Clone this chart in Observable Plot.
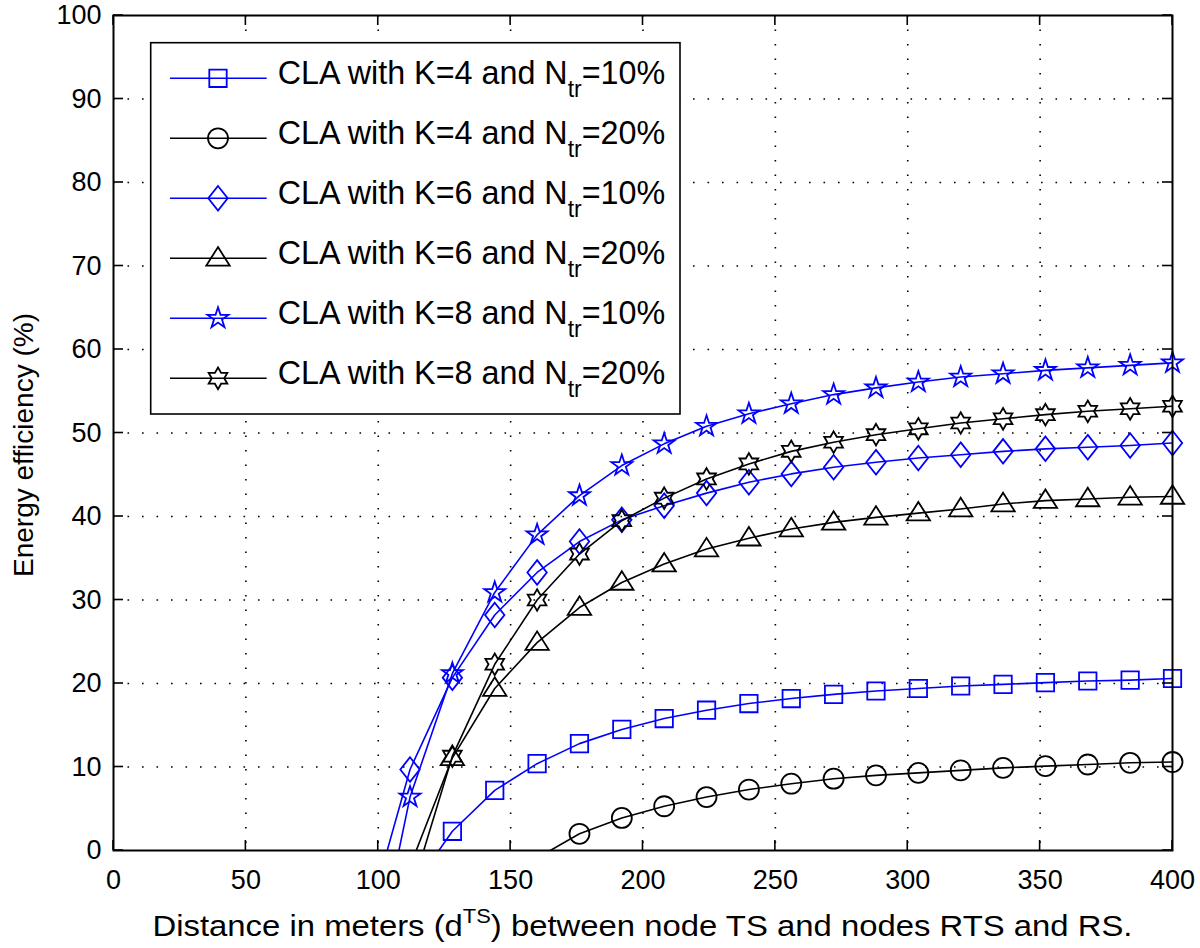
<!DOCTYPE html>
<html><head><meta charset="utf-8">
<script src="https://cdn.jsdelivr.net/npm/d3@7"></script>
<script src="https://cdn.jsdelivr.net/npm/@observablehq/plot@0.6"></script>
<style>
body{margin:0;background:#fff;}
#chart{width:1200px;height:948px;}
</style></head><body><div id="chart"></div>
<script>
// distances (m) at which each curve was evaluated
const distances = [96, 112, 128, 144, 160, 176, 192, 208, 224, 240, 256, 272, 288, 304, 320, 336, 352, 368, 384, 400];
// energy efficiency (%) per series (null = not computed); values below 0 are clipped at the axis
const k4n10 = [null, -4.9, 2.3, 7.2, 10.4, 12.8, 14.5, 15.8, 16.8, 17.6, 18.2, 18.7, 19.1, 19.4, 19.7, 19.9, 20.1, 20.3, 20.4, 20.6];
const k4n20 = [null, null, null, null, -0.9, 2.0, 3.9, 5.3, 6.4, 7.3, 8.0, 8.6, 9.0, 9.3, 9.6, 9.9, 10.1, 10.3, 10.5, 10.6];
const k6n10 = [-8.3, 9.7, 20.7, 28.2, 33.3, 37.0, 39.6, 41.3, 42.8, 44.1, 45.1, 45.9, 46.5, 47.0, 47.4, 47.8, 48.1, 48.3, 48.5, 48.8];
const k6n20 = [null, -1.9, 11.1, 19.4, 24.9, 29.1, 32.1, 34.3, 36.1, 37.4, 38.5, 39.3, 39.9, 40.4, 40.9, 41.5, 41.9, 42.1, 42.3, 42.4];
const k8n10 = [-18.0, 6.4, 21.2, 30.9, 37.8, 42.5, 46.1, 48.7, 50.8, 52.3, 53.5, 54.6, 55.4, 56.1, 56.7, 57.1, 57.5, 57.8, 58.1, 58.4];
const k8n20 = [null, -5.4, 11.3, 22.3, 30.0, 35.5, 39.5, 42.2, 44.5, 46.3, 47.8, 48.9, 49.8, 50.5, 51.2, 51.7, 52.2, 52.6, 52.9, 53.2];

const seriesK = ["4", "4", "6", "6", "8", "8"];
const seriesN = ["10%", "20%", "10%", "20%", "10%", "20%"];
const seriesColors = ["#0000ff", "#000000", "#0000ff", "#000000", "#0000ff", "#000000"];
const seriesMarkers = ["square", "circle", "diamond", "triangle", "pentagram", "hexagram"];
const seriesValues = [k4n10, k4n20, k6n10, k6n20, k8n10, k8n20];

const xTicks = [0, 50, 100, 150, 200, 250, 300, 350, 400];
const yTicks = [0, 10, 20, 30, 40, 50, 60, 70, 80, 90, 100];

// marker shapes (MATLAB-like)
function starPts(c, n, R, r) {
  for (let i = 0; i < 2 * n; i++) {
    const a = -Math.PI / 2 + i * Math.PI / n;
    const rr = i % 2 ? r : R;
    const px = rr * Math.cos(a), py = rr * Math.sin(a);
    if (i) c.lineTo(px, py); else c.moveTo(px, py);
  }
  c.closePath();
}
const symbols = {
  square: {draw(c) { c.moveTo(-8.7, -8.7); c.lineTo(8.7, -8.7); c.lineTo(8.7, 8.7); c.lineTo(-8.7, 8.7); c.closePath(); }},
  circle: {draw(c) { c.moveTo(10, 0); c.arc(0, 0, 10, 0, 2 * Math.PI); c.closePath(); }},
  diamond: {draw(c) { c.moveTo(0, -12.3); c.lineTo(9.7, 0); c.lineTo(0, 12.3); c.lineTo(-9.7, 0); c.closePath(); }},
  triangle: {draw(c) { c.moveTo(0, -11.2); c.lineTo(11.7, 7.3); c.lineTo(-11.7, 7.3); c.closePath(); }},
  pentagram: {draw(c) { starPts(c, 5, 11, 11 * 0.382); }},
  hexagram: {draw(c) { starPts(c, 6, 10.8, 10.8 / Math.sqrt(3)); }}
};

const rows = [];
seriesValues.forEach((vals, si) => {
  vals.forEach((v, i) => { if (v !== null) rows.push({series: si, x: distances[i], y: v}); });
});

const marks = [
  Plot.gridX(xTicks.slice(1, -1), {stroke: "#000", strokeOpacity: 1, strokeWidth: 1.6, strokeDasharray: "1.6,12.9"}),
  Plot.gridY(yTicks.slice(1, -1), {stroke: "#000", strokeOpacity: 1, strokeWidth: 1.6, strokeDasharray: "1.6,12.9"})
];
seriesValues.forEach((vals, si) => {
  const d = rows.filter(r => r.series === si);
  marks.push(Plot.line(d, {x: "x", y: "y", stroke: seriesColors[si], strokeWidth: 1.6, clip: true}));
  marks.push(Plot.dot(d.filter(r => r.y >= 0), {x: "x", y: "y", r: 10, symbol: symbols[seriesMarkers[si]], fill: "none", stroke: seriesColors[si], strokeWidth: 1.8}));
});
marks.push(Plot.frame({stroke: "#000", strokeWidth: 2}));
marks.push(Plot.axisX(xTicks, {tickSize: 0, tickPadding: 19, label: null, fontSize: 27, fill: "#000"}));
marks.push(Plot.axisY(yTicks, {tickSize: 0, tickPadding: 12, label: null, fontSize: 27, fill: "#000"}));

const chart = Plot.plot({
  width: 1200, height: 948,
  marginLeft: 113, marginRight: 28, marginTop: 15, marginBottom: 98,
  x: {domain: [0, 400]},
  y: {domain: [0, 100]},
  style: {fontFamily: "'Liberation Sans', Arial, Helvetica, sans-serif", background: "#fff", color: "#000"},
  marks
});
document.getElementById("chart").appendChild(chart);

// inward ticks on all four sides, titles, legend
const svg = d3.select(chart);
const xS = chart.scale("x"), yS = chart.scale("y");
const x0 = xS.apply(0), x1 = xS.apply(400), y0 = yS.apply(0), y1 = yS.apply(100);
const tg = svg.append("g").attr("stroke", "#000").attr("stroke-width", 1.6);
xTicks.forEach(t => {
  const p = xS.apply(t);
  tg.append("line").attr("x1", p).attr("x2", p).attr("y1", y0).attr("y2", y0 - 10);
  tg.append("line").attr("x1", p).attr("x2", p).attr("y1", y1).attr("y2", y1 + 10);
});
yTicks.forEach(t => {
  const p = yS.apply(t);
  tg.append("line").attr("y1", p).attr("y2", p).attr("x1", x0).attr("x2", x0 + 10);
  tg.append("line").attr("y1", p).attr("y2", p).attr("x1", x1).attr("x2", x1 - 10);
});

const font = "'Liberation Sans', Arial, Helvetica, sans-serif";
const xt = svg.append("text").attr("x", (x0 + x1) / 2).attr("y", 936).attr("text-anchor", "middle")
  .attr("font-family", font).attr("font-size", 30).attr("fill", "#000")
  .attr("textLength", 980).attr("lengthAdjust", "spacingAndGlyphs");
xt.append("tspan").text("Distance in meters (d");
xt.append("tspan").attr("font-size", 20).attr("dy", -13).text("TS");
xt.append("tspan").attr("dy", 13).text(") between node TS and nodes RTS and RS.");

svg.append("text").attr("transform", `translate(33,445) rotate(-90)`).attr("text-anchor", "middle")
  .attr("font-family", font).attr("font-size", 28).attr("fill", "#000").text("Energy efficiency (%)");

// legend
const lg = svg.append("g").attr("text-anchor", "start");
lg.append("rect").attr("x", 150.7).attr("y", 42.7).attr("width", 529.3).attr("height", 371.3)
  .attr("fill", "#fff").attr("stroke", "#000").attr("stroke-width", 1.6);
seriesValues.forEach((_, si) => {
  const ly = 78.3 + si * 60;
  lg.append("line").attr("x1", 170).attr("x2", 266.7).attr("y1", ly).attr("y2", ly)
    .attr("stroke", seriesColors[si]).attr("stroke-width", 1.6);
  lg.append("path").attr("d", d3.symbol(symbols[seriesMarkers[si]], 100)()).attr("transform", `translate(218,${ly})`)
    .attr("fill", "none").attr("stroke", seriesColors[si]).attr("stroke-width", 1.8);
  const t = lg.append("text").attr("x", 277.7).attr("y", ly + 5.5).attr("text-anchor", "start")
    .attr("font-family", font).attr("font-size", 32.3).attr("fill", "#000");
  t.append("tspan").text(`CLA with K=${seriesK[si]} and N`);
  t.append("tspan").attr("font-size", 23).attr("dy", 13).text("tr");
  t.append("tspan").attr("dy", -13).text(`=${seriesN[si]}`);
});
</script>
</body></html>
